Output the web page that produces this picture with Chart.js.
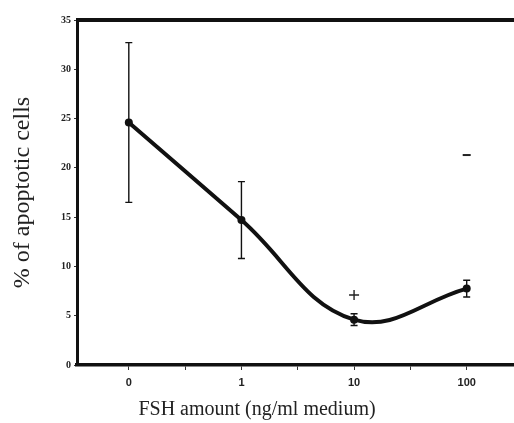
<!DOCTYPE html>
<html>
<head>
<meta charset="utf-8">
<script src="https://cdn.jsdelivr.net/npm/chart.js@4/dist/chart.umd.min.js"></script>
<style>
html,body{margin:0;padding:0;background:#fff;}
#wrap{width:514px;height:423px;}
</style>
</head>
<body>
<div id="wrap"><canvas id="c"></canvas></div>
<script>
// Data
const categories = ["0", "1", "10", "100"];
const apoptotic = [24.6, 14.7, 4.6, 7.75];
const errors = [8.1, 3.9, 0.6, 0.85];
const plusMark = [{x: 2, y: 7.1}];
const minusMark = [{x: 3, y: 21.3}];
const yTicks = [0, 5, 10, 15, 20, 25, 30, 35];

const points = apoptotic.map((v, i) => ({x: i, y: v}));

const errorBarPlugin = {
  id: 'errorBars',
  afterDatasetsDraw(chart) {
    const ctx = chart.ctx;
    const xs = chart.scales.x, ys = chart.scales.y;
    ctx.save();
    ctx.strokeStyle = '#111';
    ctx.lineWidth = 1.4;
    apoptotic.forEach((v, i) => {
      const px = xs.getPixelForValue(i);
      const top = ys.getPixelForValue(v + errors[i]);
      const bot = ys.getPixelForValue(v - errors[i]);
      ctx.beginPath();
      ctx.moveTo(px, top); ctx.lineTo(px, bot);
      ctx.moveTo(px - 3.5, top); ctx.lineTo(px + 3.5, top);
      ctx.moveTo(px - 3.5, bot); ctx.lineTo(px + 3.5, bot);
      ctx.stroke();
    });
    // top frame line at y max
    const yt = ys.getPixelForValue(35);
    ctx.strokeStyle = '#111';
    ctx.lineWidth = 4;
    ctx.beginPath();
    ctx.moveTo(chart.chartArea.left - 1, yt);
    ctx.lineTo(chart.chartArea.right, yt);
    ctx.stroke();
    ctx.restore();
  }
};

new Chart(document.getElementById('c'), {
  type: 'line',
  data: {
    datasets: [
      {
        data: points,
        borderColor: '#111',
        backgroundColor: '#111',
        borderWidth: 4,
        tension: 0.4,
        pointRadius: 4,
        pointBackgroundColor: '#111',
        pointBorderWidth: 0,
        fill: false
      },
      {
        type: 'scatter',
        data: plusMark,
        pointStyle: 'cross',
        pointRadius: 5,
        borderColor: '#222',
        borderWidth: 1.4,
        showLine: false
      },
      {
        type: 'scatter',
        data: minusMark,
        pointStyle: 'line',
        pointRadius: 4,
        borderColor: '#222',
        borderWidth: 2,
        showLine: false
      }
    ]
  },
  options: {
    responsive: true,
    maintainAspectRatio: false,
    animation: false,
    events: [],
    layout: {autoPadding: false, padding: {top: 20, right: 0, left: 0, bottom: 0}},
    plugins: {
      legend: {display: false},
      tooltip: {enabled: false},
      title: {
        display: true,
        position: 'bottom',
        text: 'FSH amount (ng/ml medium)',
        color: '#222',
        font: {family: 'Liberation Serif', size: 20, weight: 'normal', lineHeight: 1.2},
        padding: {top: 0, bottom: 1}
      }
    },
    scales: {
      x: {
        type: 'linear',
        min: -0.46,
        max: 3.42,
        afterBuildTicks(scale) {
          scale.ticks = [0, 0.5, 1, 1.5, 2, 2.5, 3].map(v => ({value: v}));
        },
        afterFit(scale) { scale.height = 33; },
        border: {display: true, color: '#111', width: 3.5},
        grid: {display: true, drawOnChartArea: false, drawTicks: true, tickLength: 5, color: '#333', lineWidth: 1},
        ticks: {
          autoSkip: false,
          maxRotation: 0,
          padding: 6,
          color: '#222',
          font: {family: 'Liberation Sans', size: 11, weight: 'bold'},
          callback(v) {
            return Number.isInteger(v) ? categories[v] : '';
          }
        }
      },
      y: {
        type: 'linear',
        min: 0,
        max: 35,
        afterBuildTicks(scale) {
          scale.ticks = yTicks.map(v => ({value: v}));
        },
        afterFit(scale) { scale.width = 77; },
        border: {display: true, color: '#111', width: 3},
        grid: {display: true, drawOnChartArea: false, drawTicks: true, tickLength: 3, color: '#333', lineWidth: 1},
        ticks: {
          padding: 3,
          color: '#222',
          font: {family: 'Liberation Serif', size: 10, weight: 'bold'}
        },
        title: {
          display: true,
          text: '% of apoptotic cells',
          color: '#222',
          font: {family: 'Liberation Serif', size: 24, weight: 'normal', lineHeight: 1.2},
          padding: {top: 8, bottom: 0}
        }
      }
    }
  },
  plugins: [errorBarPlugin]
});
</script>
</body>
</html>
